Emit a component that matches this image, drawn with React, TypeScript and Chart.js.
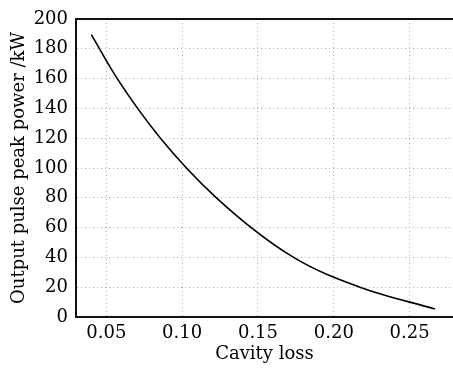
import React, { useEffect, useRef } from "react";
import { Chart, registerables } from "chart.js";

Chart.register(...registerables);

const cavityLoss = [0.0401, 0.0572, 0.0857, 0.1226, 0.1735, 0.2172, 0.2667];
const peakPower = [189.5, 160, 120, 80, 40, 20, 5.4];
const xTicks = [0.05, 0.10, 0.15, 0.20, 0.25];
const yTicks = [0, 20, 40, 60, 80, 100, 120, 140, 160, 180, 200];

const FONT = "'DejaVu Serif', 'Liberation Serif', serif";

const topBorder = {
  id: "topBorder",
  afterDraw(chart: any) {
    const { ctx, chartArea } = chart;
    ctx.save();
    ctx.strokeStyle = "#111";
    ctx.lineWidth = 2;
    ctx.setLineDash([]);
    ctx.beginPath();
    ctx.moveTo(chartArea.left - 1, chartArea.top);
    ctx.lineTo(chartArea.right, chartArea.top);
    ctx.stroke();
    ctx.restore();
  },
};

export default function App() {
  const ref = useRef<HTMLCanvasElement | null>(null);
  useEffect(() => {
    if (!ref.current) return;
    const chart = new Chart(ref.current, {
      type: "line",
      data: {
        datasets: [
          {
            data: cavityLoss.map((x, i) => ({ x, y: peakPower[i] })),
            borderColor: "#000",
            borderWidth: 1.6,
            pointRadius: 0,
            fill: false,
            cubicInterpolationMode: "monotone",
          },
        ],
      },
      options: {
        animation: false,
        responsive: true,
        maintainAspectRatio: false,
        layout: { padding: { left: 9, top: 19, right: 0, bottom: 0 } },
        plugins: { legend: { display: false }, tooltip: { enabled: false } },
        scales: {
          x: {
            type: "linear",
            min: 0.03,
            max: 0.2786,
            afterBuildTicks: (s: any) => {
              s.ticks = xTicks.map((v) => ({ value: v }));
            },
            afterFit: (s: any) => {
              s.height = 51;
            },
            ticks: {
              color: "#000",
              font: { family: FONT, size: 18 },
              padding: 6,
              callback: (v: any) => Number(v).toFixed(2),
            },
            grid: {
              color: "#b0b0b0",
              lineWidth: 1,
              drawTicks: false,
            },
            border: { display: true, color: "#111", width: 2, dash: [1, 3] },
            title: {
              display: true,
              text: "Cavity loss",
              color: "#000",
              font: { family: FONT, size: 18 },
              padding: { top: 0, bottom: 3 },
            },
          },
          y: {
            type: "linear",
            min: 0,
            max: 200,
            afterBuildTicks: (s: any) => {
              s.ticks = yTicks.map((v) => ({ value: v }));
            },
            afterFit: (s: any) => {
              s.width = 67;
            },
            ticks: {
              color: "#000",
              font: { family: FONT, size: 18 },
              padding: 8,
            },
            grid: {
              color: "#b0b0b0",
              lineWidth: 1,
              drawTicks: false,
            },
            border: { display: true, color: "#111", width: 2, dash: [1, 3] },
            title: {
              display: true,
              text: "Output pulse peak power /kW",
              color: "#000",
              font: { family: FONT, size: 18 },
              padding: { top: 0, bottom: 0 },
            },
          },
        },
      },
      plugins: [topBorder],
    } as any);
    return () => chart.destroy();
  }, []);
  return (
    <div style={{ position: "fixed", left: 0, top: 0, width: 453, height: 368, background: "#fff" }}>
      <canvas ref={ref} />
    </div>
  );
}
